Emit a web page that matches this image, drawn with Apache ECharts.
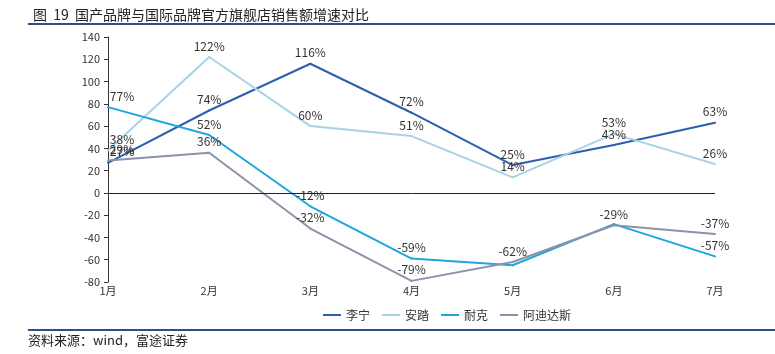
<!DOCTYPE html>
<html>
<head>
<meta charset="utf-8">
<script src="https://cdn.jsdelivr.net/npm/echarts@6/dist/echarts.min.js"></script>
<style>
html,body{margin:0;padding:0;background:#fff;}
#main{width:775px;height:354px;}
</style>
</head>
<body>
<div id="main"></div>
<script>
var months = ['1月', '2月', '3月', '4月', '5月', '6月', '7月'];
var lining = [27, 74, 116, 72, 25, 43, 63];
var anta = [38, 122, 60, 51, 14, 53, 26];
var nike = [77, 52, -12, -59, -65, -28, -57];
var adidas = [29, 36, -32, -79, -62, -29, -37];
// 耐克 5月、6月 原图未标数值
var nikeHide = [4, 5];

var font = '"Noto Sans CJK SC", "Noto Sans", sans-serif';

function mk(name, data, color, hide) {
	hide = hide || [];
	return {
		name: name,
		type: 'line',
		data: data.map(function (v, i) {
			return hide.indexOf(i) >= 0 ? { value: v, label: { show: false } } : v;
		}),
		symbol: 'circle',
		symbolSize: 2,
		showSymbol: true,
		lineStyle: { color: color, width: 2 },
		itemStyle: { color: color },
		label: {
			show: true,
			position: 'top',
			distance: 4,
			formatter: '{c}%',
			color: '#333',
			fontSize: 12,
			fontFamily: font
		},
		// 1月的标签往右挪，留在绘图区内
		labelLayout: function (params) {
			if (params.dataIndex == 0) return { dx: 14 };
			return {};
		}
	};
}

var dom = document.getElementById('main');
var myChart = echarts.init(dom);
var option = {
	animation: false,
	backgroundColor: '#fff',
	textStyle: { fontFamily: font },
	title: {
		text: '图  19  国产品牌与国际品牌官方旗舰店销售额增速对比',
		left: 28,
		top: 3,
		textStyle: { fontSize: 14, fontWeight: 'normal', color: '#222', fontFamily: font }
	},
	graphic: [
		{ type: 'rect', shape: { x: 28, y: 23, width: 747, height: 2 }, style: { fill: '#2f4f82' } },
		{ type: 'rect', shape: { x: 28, y: 329, width: 747, height: 2 }, style: { fill: '#2f4f82' } },
		{ type: 'text', left: 28, top: 334, style: { text: '资料来源：wind，富途证券', fontSize: 13, fill: '#222', fontFamily: font } }
	],
	legend: {
		data: ['李宁', '安踏', '耐克', '阿迪达斯'],
		left: 318,
		top: 304,
		icon: 'rect',
		itemWidth: 18,
		itemHeight: 2,
		itemGap: 12,
		textStyle: { fontSize: 12, color: '#333', fontFamily: font }
	},
	grid: { left: 108, right: 60, top: 37, bottom: 72, containLabel: false },
	xAxis: {
		type: 'category',
		data: months,
		boundaryGap: false,
		axisLine: { show: false, onZero: false },
		axisTick: { show: false },
		axisLabel: { color: '#333', fontSize: 11, margin: 3 }
	},
	yAxis: {
		type: 'value',
		min: -80,
		max: 140,
		interval: 20,
		splitLine: { show: false },
		axisLine: { show: true, lineStyle: { color: '#333', width: 1 } },
		axisTick: { show: true, length: 4, lineStyle: { color: '#333' } },
		axisLabel: { color: '#333', fontSize: 11, margin: 8 }
	},
	series: [
		(function () {
			var s = mk('李宁', lining, '#2c5fb3');
			s.markLine = {
				silent: true,
				symbol: 'none',
				label: { show: false },
				lineStyle: { color: '#222', type: 'solid', width: 1 },
				data: [{ yAxis: 0 }]
			};
			return s;
		})(),
		mk('安踏', anta, '#a8d3e6'),
		mk('耐克', nike, '#1ea6e0', nikeHide),
		mk('阿迪达斯', adidas, '#8a93a8')
	]
};
myChart.setOption(option);
</script>
</body>
</html>
